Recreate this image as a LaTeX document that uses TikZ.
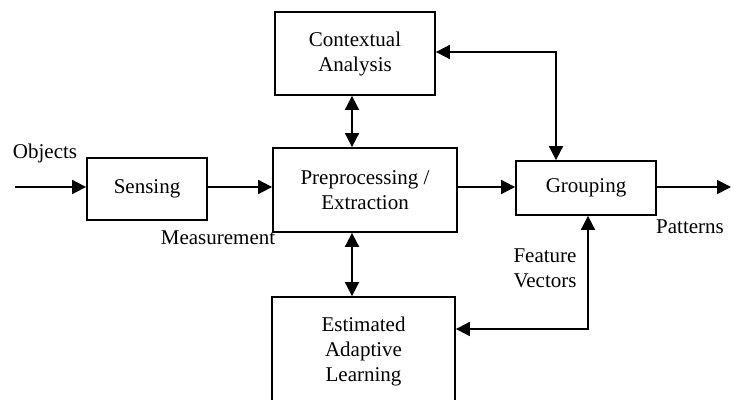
\documentclass[tikz,border=0pt]{standalone}
\usepackage{fontspec}
\setmainfont{Liberation Serif}
\usetikzlibrary{arrows.meta}

\tikzset{
  blk/.style = {draw, line width=0.9pt, align=center, inner sep=0pt},
  lbl/.style = {inner sep=0pt, align=center},
  con/.style = {line width=0.9pt, -{Triangle[length=7pt, width=7pt]}},
  bicon/.style = {line width=0.9pt, {Triangle[length=7pt, width=7pt]}-{Triangle[length=7pt, width=7pt]}}
}

\begin{document}
\begin{tikzpicture}[x=0.5pt, y=-0.5pt, font=\fontsize{10.5}{12.5}\selectfont]
		\useasboundingbox (0, 0) rectangle (731, 400);
		%%%%%%%%%%%%%
		\node[blk, minimum width=60pt, minimum height=31pt] (sens) at (147, 189) {Sensing};
		\node[blk, minimum width=92pt, minimum height=42pt] (prep) at (365, 190) {Preprocessing /\\ Extraction};
		\node[blk, minimum width=80pt, minimum height=41.5pt] (ctx) at (355, 53.5) {Contextual\\ Analysis};
		\node[blk, minimum width=70pt, minimum height=27pt] (grp) at (586, 188) {Grouping};
		\node[blk, minimum width=91.5pt, minimum height=54pt] (est) at (363.5, 351) {Estimated\\ Adaptive\\ Learning};
		%%%%%%%%%%%%%
		\node[lbl] (obj) at (45, 153) {Objects};
		\node[lbl] (meas) at (218, 238) {Measurement};
		\node[lbl] (pat) at (690, 227) {Patterns};
		\node[lbl] (feat) at (545, 268) {Feature\\ Vectors};
		%%%%%%%%%%%%%
		\coordinate (in) at (15, 187);
		\coordinate (out) at (731, 187);
		\coordinate (vx) at (352, 0);
		\coordinate (tx) at (556, 52);
		\coordinate (bx) at (588, 329);
		%%%%%%%%%%%%%
		\draw [con] (in) to (sens.west |- in);
		\draw [con] (sens.east |- in) to (prep.west |- in);
		\draw [con] (prep.east |- in) to (grp.west |- in);
		\draw [con] (grp.east |- out) to (out);
		\draw [bicon] (ctx.south -| vx) to (prep.north -| vx);
		\draw [bicon] (prep.south -| vx) to (est.north -| vx);
		\draw [bicon] (ctx.east |- tx) -| (grp.north -| tx);
		\draw [bicon] (grp.south -| bx) |- (est.east |- bx);
\end{tikzpicture}
\end{document}
